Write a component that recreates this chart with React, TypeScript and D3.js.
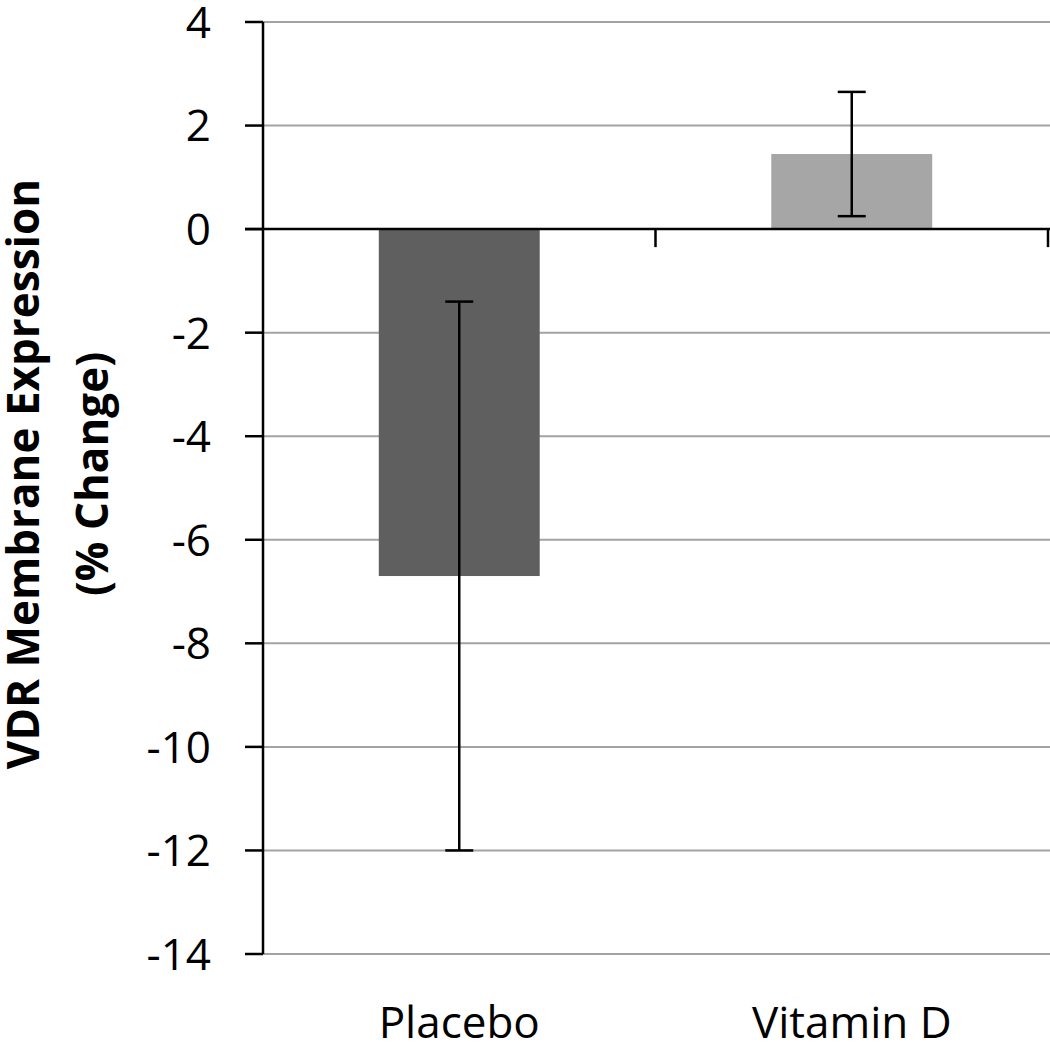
import React from "react";
import * as d3 from "d3";

const categories = ["Placebo", "Vitamin D"];
const means = [-6.7, 1.45];
const errors = [5.3, 1.2];
const barColors = ["#5f5f5f", "#a6a6a6"];
const yTicks = [4, 2, 0, -2, -4, -6, -8, -10, -12, -14];
const yTitle = ["VDR Membrane Expression", "(% Change)"];

const W = 1050;
const H = 1045;
const axisX = 263;
const rightX = 1048;
const topY = 22;
const bottomY = 954;

export default function App() {
  const y = d3.scaleLinear().domain([-14, 4]).range([bottomY, topY]);
  const x = d3.scaleBand().domain(categories).range([axisX, rightX]).padding(0);
  const bw = x.bandwidth() * 0.41;
  const font = "'Open Sans', sans-serif";
  const y0 = y(0);

  return (
    <svg
      width={W}
      height={H}
      style={{ position: "absolute", left: 0, top: 0, background: "#fff" }}
      xmlns="http://www.w3.org/2000/svg"
    >
      <rect x={0} y={0} width={W} height={H} fill="#fff" />
      {yTicks.filter((t) => t !== 0).map((t) => (
        <line
          key={"g" + t}
          x1={axisX}
          x2={W}
          y1={y(t)}
          y2={y(t)}
          stroke="#a3a3a3"
          strokeWidth={2}
        />
      ))}
      {categories.map((c, i) => {
        const cx = (x(c) as number) + x.bandwidth() / 2;
        const v = means[i];
        return (
          <rect
            key={"b" + c}
            x={cx - bw / 2}
            width={bw}
            y={Math.min(y(v), y0)}
            height={Math.abs(y(v) - y0)}
            fill={barColors[i]}
          />
        );
      })}
      <line x1={axisX - 18} x2={W} y1={y0} y2={y0} stroke="#000" strokeWidth={2.5} />
      {categories.map((c) => {
        const xr = (x(c) as number) + x.bandwidth();
        return (
          <line key={"ct" + c} x1={xr} x2={xr} y1={y0} y2={y0 + 18} stroke="#000" strokeWidth={2.5} />
        );
      })}
      {categories.map((c, i) => {
        const cx = (x(c) as number) + x.bandwidth() / 2;
        const lo = y(means[i] - errors[i]);
        const hi = y(means[i] + errors[i]);
        const cap = 14;
        return (
          <g key={"e" + c} stroke="#000" strokeWidth={2.5}>
            <line x1={cx} x2={cx} y1={hi} y2={lo} />
            <line x1={cx - cap} x2={cx + cap} y1={hi} y2={hi} />
            <line x1={cx - cap} x2={cx + cap} y1={lo} y2={lo} />
          </g>
        );
      })}
      <line x1={axisX} x2={axisX} y1={topY} y2={bottomY} stroke="#000" strokeWidth={2.5} />
      {yTicks.map((t) => (
        <g key={"t" + t}>
          <line x1={axisX - 18} x2={axisX} y1={y(t)} y2={y(t)} stroke="#000" strokeWidth={2.5} />
          <text
            x={211}
            y={y(t)}
            dy="0.36em"
            textAnchor="end"
            fontFamily={font}
            fontSize={44}
            fill="#000"
          >
            {t}
          </text>
        </g>
      ))}
      {categories.map((c) => (
        <text
          key={"l" + c}
          x={(x(c) as number) + x.bandwidth() / 2}
          y={1038}
          textAnchor="middle"
          fontFamily={font}
          fontSize={44}
          fill="#000"
        >
          {c}
        </text>
      ))}
      <g transform="translate(0,474) rotate(-90)">
        {yTitle.map((s, i) => (
          <text
            key={"yt" + i}
            x={0}
            y={39 + i * 69}
            textAnchor="middle"
            fontFamily={font}
            fontWeight="bold"
            fontSize={44}
            fill="#000"
          >
            {s}
          </text>
        ))}
      </g>
    </svg>
  );
}
